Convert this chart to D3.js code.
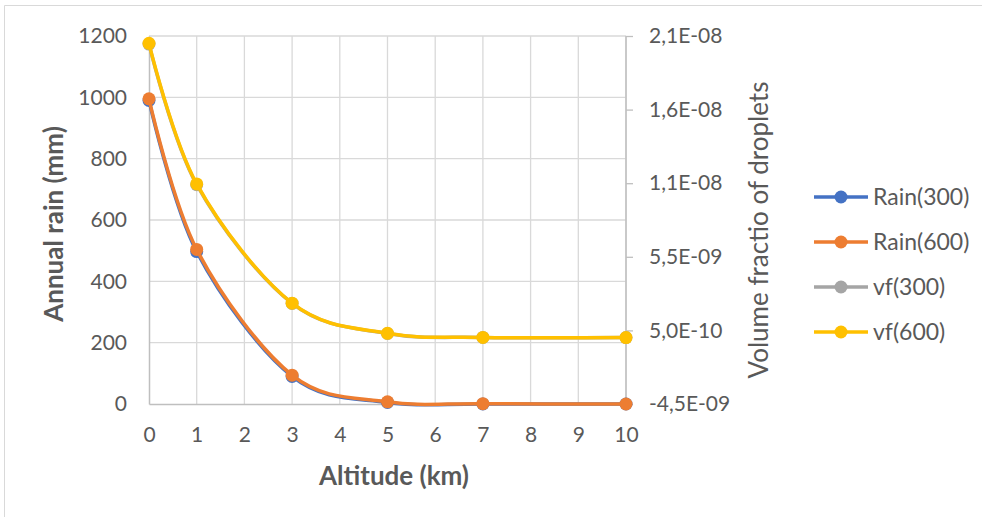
<!DOCTYPE html>
<html>
<head>
<meta charset="utf-8">
<script src="https://cdn.jsdelivr.net/npm/d3@7"></script>
<style>
  body { margin: 0; background: #fff; }
  text { font-family: Lato, "Open Sans", sans-serif; fill: #595959; }
</style>
</head>
<body>
<div id="chart"></div>
<script>
// altitude (km)
const altitudes = [0, 1, 3, 5, 7, 10];

// annual rain (mm), left axis
const rain300 = [990, 497, 90, 5, 0, 0];
const rain600 = [995, 504, 94, 7, 1, 0];

// volume fraction of droplets, right axis
const vf300 = [1.995e-8, 1.04e-8, 2.33e-9, 2.9e-10, 2e-11, 1e-11];
const vf600 = [2.0e-8, 1.045e-8, 2.35e-9, 3.0e-10, 2e-11, 1e-11];

const xTicks = [0, 1, 2, 3, 4, 5, 6, 7, 8, 9, 10];
const leftTicks = [0, 200, 400, 600, 800, 1000, 1200];
const rightTicks = [-4.5e-9, 5e-10, 5.5e-9, 1.05e-8, 1.55e-8, 2.05e-8];

const width = 982;
const height = 517;
const plot = { left: 149, right: 626, top: 36, bottom: 404 };

const svg = d3.select("#chart")
  .append("svg")
  .attr("width", width)
  .attr("height", height);

// chart frame (only top and left edges show in the picture)
svg.append("line").attr("x1", 4.5).attr("x2", width).attr("y1", 5.5).attr("y2", 5.5)
  .attr("stroke", "#d9d9d9");
svg.append("line").attr("x1", 4.5).attr("x2", 4.5).attr("y1", 5.5).attr("y2", height)
  .attr("stroke", "#d9d9d9");

const x = d3.scaleLinear().domain([0, 10]).range([plot.left, plot.right]);
const yLeft = d3.scaleLinear().domain([0, 1200]).range([plot.bottom, plot.top]);
const yRight = d3.scaleLinear().domain([-4.5e-9, 2.05e-8]).range([plot.bottom, plot.top]);

// gridlines
svg.append("g")
  .selectAll("line.vgrid")
  .data(xTicks.slice(1))
  .enter()
  .append("line")
  .attr("x1", d => x(d)).attr("x2", d => x(d))
  .attr("y1", plot.top).attr("y2", plot.bottom)
  .attr("stroke", "#d9d9d9").attr("stroke-width", 1.3);

svg.append("g")
  .selectAll("line.hgrid")
  .data(leftTicks.slice(1))
  .enter()
  .append("line")
  .attr("x1", plot.left).attr("x2", plot.right)
  .attr("y1", d => yLeft(d)).attr("y2", d => yLeft(d))
  .attr("stroke", "#d9d9d9").attr("stroke-width", 1.3);

// Excel style labels: 2,1E-08
const fmtRight = v => {
  const s = d3.format(".1e")(v + (v > 0 ? 1e-20 : 0)).replace("−", "-");
  const parts = s.split("e");
  const exp = +parts[1].replace("−", "-");
  const expStr = (exp < 0 ? "-" : "+") + String(Math.abs(exp)).padStart(2, "0");
  return parts[0].replace(".", ",") + "E" + expStr;
};

const xAxis = svg.append("g")
  .attr("transform", `translate(0,${plot.bottom})`)
  .call(d3.axisBottom(x).tickValues(xTicks).tickSize(0).tickPadding(23).tickFormat(d3.format("d")));

const leftAxis = svg.append("g")
  .attr("transform", `translate(${plot.left},0)`)
  .call(d3.axisLeft(yLeft).tickValues(leftTicks).tickSize(0).tickPadding(22).tickFormat(d3.format("d")));

const rightAxis = svg.append("g")
  .attr("transform", `translate(${plot.right},0)`)
  .call(d3.axisRight(yRight).tickValues(rightTicks).tickSize(7).tickPadding(16).tickFormat(fmtRight));

[xAxis, leftAxis, rightAxis].forEach(a => {
  a.select(".domain").attr("stroke", "#bfbfbf").attr("stroke-width", 1.5);
  a.selectAll(".tick line").attr("stroke", "#bfbfbf").attr("stroke-width", 1.3);
  a.selectAll(".tick text").style("font-size", "21px").attr("fill", "#595959");
});
rightAxis.select(".domain").attr("d", `M0,${plot.top}V${plot.bottom}`);

// axis titles
svg.append("text")
  .attr("transform", "translate(54,224) rotate(-90)")
  .attr("text-anchor", "middle").attr("dy", "0.35em")
  .style("font-size", "26px").style("font-weight", "bold")
  .text("Annual rain (mm)");

svg.append("text")
  .attr("x", 394).attr("y", 476)
  .attr("text-anchor", "middle").attr("dy", "0.35em")
  .style("font-size", "26px").style("font-weight", "bold")
  .text("Altitude (km)");

svg.append("text")
  .attr("transform", "translate(759,230) rotate(-90)")
  .attr("text-anchor", "middle").attr("dy", "0.35em")
  .style("font-size", "26px")
  .text("Volume fractio of droplets");

// series
const series = [
  { name: "Rain(300)", values: rain300, y: yLeft, color: "#4472c4" },
  { name: "Rain(600)", values: rain600, y: yLeft, color: "#ed7d31" },
  { name: "vf(300)", values: vf300, y: yRight, color: "#a5a5a5" },
  { name: "vf(600)", values: vf600, y: yRight, color: "#ffc000" }
];

series.forEach(s => {
  const line = d3.line()
    .x((d, i) => x(altitudes[i]))
    .y(d => s.y(d))
    .curve(d3.curveCardinal.tension(0));

  svg.append("path")
    .datum(s.values)
    .attr("d", line)
    .attr("fill", "none")
    .attr("stroke", s.color)
    .attr("stroke-width", 3.5)
    .attr("stroke-linecap", "round");

  svg.append("g")
    .selectAll("circle")
    .data(s.values)
    .enter()
    .append("circle")
    .attr("cx", (d, i) => x(altitudes[i]))
    .attr("cy", d => s.y(d))
    .attr("r", 6.5)
    .attr("fill", s.color);
});

// legend
const legend = svg.append("g").attr("transform", "translate(814,197)");
series.forEach((s, i) => {
  const row = legend.append("g").attr("transform", `translate(0,${i * 45})`);
  row.append("line")
    .attr("x1", 0).attr("x2", 54)
    .attr("stroke", s.color).attr("stroke-width", 3.5);
  row.append("circle")
    .attr("cx", 27).attr("r", 6.5).attr("fill", s.color);
  row.append("text")
    .attr("x", 59).attr("dy", "0.35em")
    .style("font-size", "23px")
    .text(s.name);
});
</script>
</body>
</html>
